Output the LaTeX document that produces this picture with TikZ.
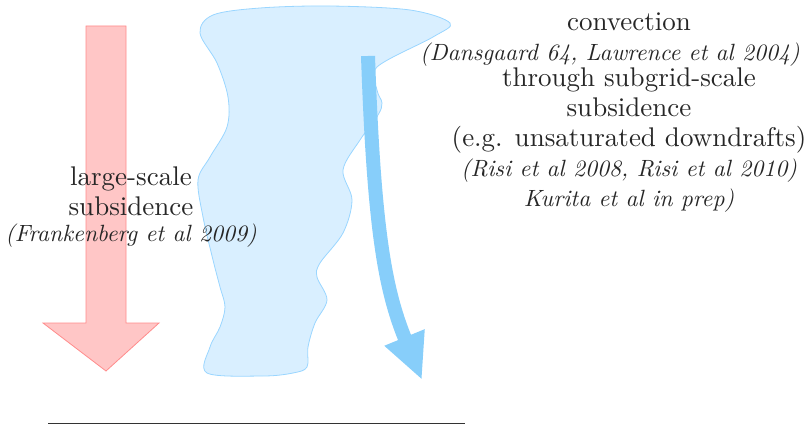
\documentclass[tikz,border=0pt]{standalone}
\usepackage{fontspec}
\setmainfont{lmroman10-regular.otf}[ItalicFont=lmroman10-italic.otf]
\usepackage{xcolor}
\usepackage{tikz}
\usetikzlibrary{arrows.meta,calc}
\definecolor{subsfill}{HTML}{FFC6C6}
\definecolor{subsedge}{HTML}{FF8C8C}
\definecolor{cloudfill}{HTML}{D9EFFF}
\definecolor{cloudedge}{HTML}{9AD6FF}
\definecolor{downc}{HTML}{87CEFA}
\newcommand{\citefont}{\fontsize{23.5}{30}\selectfont\itshape}

\begin{document}
\begin{tikzpicture}[x=1pt, y=-1pt,
  txt/.style={align=center, inner sep=0pt, text=black!85,
              font=\fontsize{27}{30}\selectfont},
  bigarrow/.style={draw=subsedge, fill=subsfill, line width=0.8pt, line join=miter},
  cloud/.style={draw=cloudedge, fill=cloudfill, line width=0.8pt},
  down/.style={draw=downc, line width=14pt,
               -{Triangle[length=46pt, width=40pt]}}]
\useasboundingbox (0,0) rectangle (812,425);
% large-scale subsidence arrow
\draw[bigarrow] (86,26) -- (126,26) -- (126,323) -- (159,323) -- (106,371)
  -- (43,323) -- (86,323) -- cycle;
% convective cloud
\draw[cloud] plot[smooth cycle, tension=0.55] coordinates {
  (207,373) (210,347) (220,327) (225,307) (220,287) (213,260) (203,217)
  (198,180) (210,157) (227,127) (228,97) (217,63) (200,33) (213,15)
  (260,8) (330,6) (410,10) (450,23) (433,37) (377,67) (377,90)
  (382,103) (378,115) (360,140) (343,170) (352,200) (343,233)
  (320,263) (317,277) (327,300) (315,323) (308,347) (307,367)
  (293,373) (263,376)};
% subgrid-scale downdraft
\coordinate (dtop) at (368,56);
\coordinate (dbot) at (422,380);
\draw[down] (dtop) .. controls (374,230) and (385,290) .. (dbot);
% surface
\coordinate (gl) at (48,423.8);
\coordinate (gr) at (465,423.8);
\draw[black!80, line width=1.1pt] (gl) -- (gr);
% labels
\node[txt] (lsub) at (131,207) {large-scale\\subsidence\\[-4.5pt]
  {\citefont (Frankenberg et al 2009)}};
\node[txt] (conv) at (629,113) {convection\\
  \makebox[0pt]{\citefont (Dansgaard 64, Lawrence et al 2004)\hspace{38pt}}\\[-4pt]
  through subgrid-scale\\subsidence\\(e.g. unsaturated downdrafts)\\
  {\citefont (Risi et al 2008, Risi et al 2010)}\\
  {\citefont Kurita et al in prep)}};
\end{tikzpicture}
\end{document}
